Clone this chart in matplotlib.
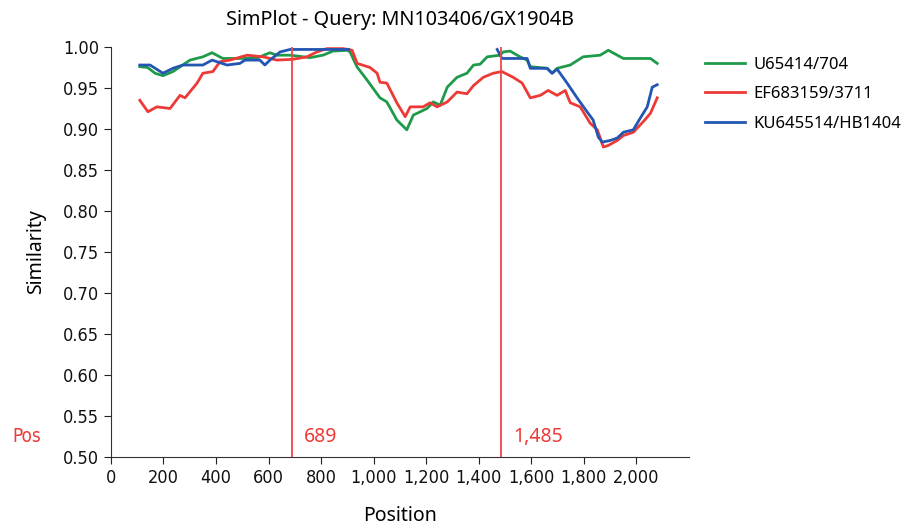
import numpy as np
import matplotlib
matplotlib.use("Agg")
import matplotlib.pyplot as plt
from matplotlib.ticker import FuncFormatter

title = "SimPlot - Query: MN103406/GX1904B"
names = ["U65414/704", "EF683159/3711", "KU645514/HB1404"]
colors = ["#1f9a4a", "#ee3a36", "#2356b2"]

green_pos = [110, 140, 168, 198, 236, 301, 350, 385, 426, 491, 560, 605, 632, 682, 758, 807, 845, 899, 910,
             936, 974, 1024, 1050, 1088, 1126, 1151, 1203, 1227, 1253, 1280, 1317, 1355, 1380, 1405, 1432,
             1481, 1493, 1519, 1557, 1584, 1596, 1660, 1679, 1698, 1748, 1797, 1862, 1893, 1950, 2053, 2079]
green_val = [0.976, 0.975, 0.968, 0.965, 0.970, 0.984, 0.988, 0.993, 0.986, 0.986, 0.987, 0.993, 0.990, 0.990,
             0.987, 0.990, 0.995, 0.996, 0.994, 0.976, 0.960, 0.938, 0.933, 0.911, 0.899, 0.917, 0.925, 0.933,
             0.929, 0.951, 0.963, 0.968, 0.978, 0.979, 0.988, 0.990, 0.994, 0.995, 0.988, 0.984, 0.976, 0.974,
             0.968, 0.974, 0.978, 0.988, 0.990, 0.996, 0.986, 0.986, 0.980]

red_pos = [110, 141, 175, 225, 263, 282, 328, 350, 388, 415, 453, 518, 579, 632, 693, 746, 784, 822, 884, 918,
           937, 986, 1013, 1024, 1050, 1088, 1120, 1139, 1188, 1215, 1241, 1280, 1317, 1355, 1380, 1417, 1455,
           1488, 1531, 1565, 1596, 1634, 1664, 1698, 1729, 1748, 1786, 1824, 1851, 1874, 1893, 1927, 1950, 1988,
           2026, 2053, 2079]
red_val = [0.935, 0.921, 0.927, 0.925, 0.941, 0.938, 0.956, 0.968, 0.970, 0.982, 0.984, 0.990, 0.988, 0.984,
           0.985, 0.988, 0.994, 0.998, 0.998, 0.996, 0.980, 0.975, 0.968, 0.957, 0.956, 0.932, 0.915, 0.927,
           0.927, 0.932, 0.927, 0.933, 0.945, 0.943, 0.953, 0.963, 0.968, 0.970, 0.963, 0.956, 0.938, 0.941,
           0.947, 0.941, 0.947, 0.932, 0.927, 0.907, 0.899, 0.878, 0.880, 0.886, 0.892, 0.896, 0.909, 0.919,
           0.938]

blue_pos = [110, 149, 198, 236, 274, 350, 385, 442, 491, 510, 567, 586, 605, 644, 682, 905, 910, 1460, 1470,
            1488, 1584, 1596, 1660, 1679, 1698, 1736, 1774, 1812, 1835, 1855, 1870, 1900, 1927, 1950, 1988,
            2014, 2041, 2060, 2079]
blue_val = [0.978, 0.978, 0.968, 0.974, 0.978, 0.978, 0.984, 0.978, 0.980, 0.984, 0.984, 0.978, 0.984, 0.994,
            0.997, 0.997, np.nan, np.nan, 0.997, 0.986, 0.986, 0.974, 0.974, 0.968, 0.973, 0.956, 0.938, 0.921,
            0.911, 0.890, 0.884, 0.886, 0.889, 0.896, 0.899, 0.913, 0.927, 0.951, 0.954]

breakpoints = [689, 1485]
break_labels = ["689", "1,485"]
yticks = [0.50, 0.55, 0.60, 0.65, 0.70, 0.75, 0.80, 0.85, 0.90, 0.95, 1.00]
xticks = [0, 200, 400, 600, 800, 1000, 1200, 1400, 1600, 1800, 2000]

plt.rcParams['font.family'] = ['DejaVu Sans']
plt.rcParams['font.stretch'] = 'condensed'
sans = ['Noto Sans', 'DejaVu Sans']

fig = plt.figure(figsize=(9.09, 5.25), dpi=100)
ax = fig.add_axes([0.122, 0.1295, 0.636, 0.781])

series = [(green_pos, green_val), (red_pos, red_val), (blue_pos, blue_val)]
for (p, v), n, c in zip(series, names, colors):
    ax.plot(p, v, color=c, lw=2.0, label=n)

for b, lab in zip(breakpoints, break_labels):
    ax.axvline(b, color="#f0474a", lw=1.3)
    ax.text(b + 45, 0.525, lab, color="#ee3a36", fontsize=14, va='center', ha='left',
            family=sans, stretch='normal')
ax.text(-0.17, 0.525, "Pos", color="#ee3a36", fontsize=13.5, va='center', ha='left',
        transform=ax.get_yaxis_transform(), family=['DejaVu Sans'], stretch='condensed')

ax.set_xlim(0, 2200)
ax.set_ylim(0.5, 1.0)
ax.set_xticks(xticks)
ax.set_yticks(yticks)
ax.xaxis.set_major_formatter(FuncFormatter(lambda x, p: f"{int(x):,}"))
ax.yaxis.set_major_formatter(FuncFormatter(lambda y, p: f"{y:.2f}"))
ax.tick_params(labelsize=13, length=5, color="#222222", labelcolor="#111111")
for s in ["top", "right"]:
    ax.spines[s].set_visible(False)
for s in ["left", "bottom"]:
    ax.spines[s].set_color("#333333")
ax.set_xlabel("Position", fontsize=14, labelpad=14, family=sans, stretch='normal')
ax.set_ylabel("Similarity", fontsize=14, labelpad=12, family=sans, stretch='normal')
ax.set_title(title, fontsize=14.3, pad=16, family=sans, stretch='normal')

leg = ax.legend(loc='upper left', bbox_to_anchor=(1.01, 1.0), frameon=False,
                handlelength=2.4, handletextpad=0.5, labelspacing=0.8, borderaxespad=0.2,
                prop={'family': sans, 'size': 12, 'stretch': 'normal'})

fig.savefig("out.png", dpi=100)
